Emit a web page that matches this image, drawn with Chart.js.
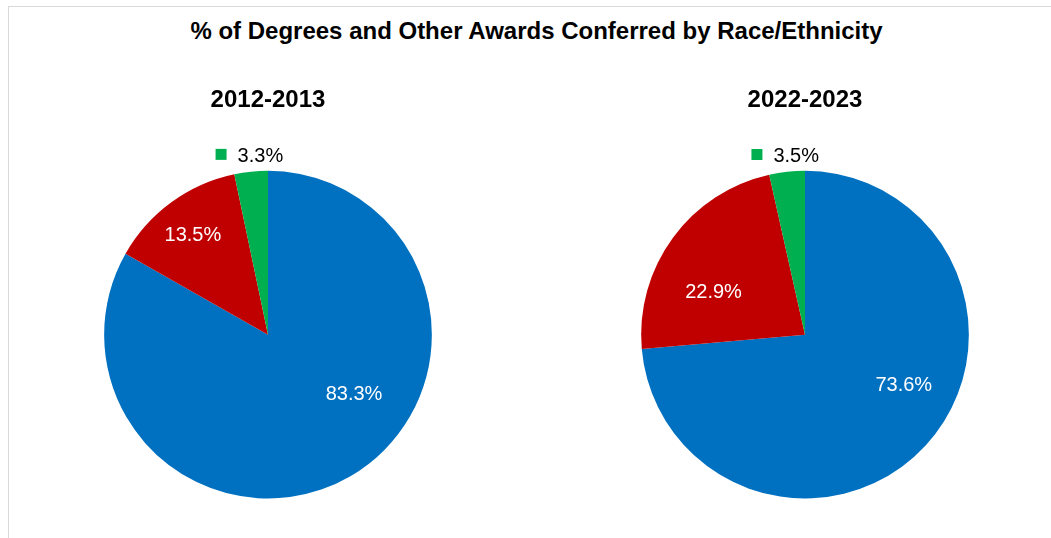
<!DOCTYPE html>
<html>
<head>
<meta charset="utf-8">
<script src="https://cdn.jsdelivr.net/npm/chart.js@4.4.1/dist/chart.umd.min.js"></script>
<style>
  body { margin: 0; background: #fff; overflow: hidden; width: 1051px; height: 538px; position: relative; }
  .frame { position: absolute; left: 8px; top: 6px; width: 1100px; height: 600px;
           border-left: 1px solid #d9d9d9; border-top: 1px solid #d9d9d9; }
  .main-title { position: absolute; left: 0; top: 17px; width: 1073px; text-align: center;
                font: bold 24px "Liberation Sans", Arial, sans-serif; line-height: 28px; color: #000; }
  canvas { position: absolute; top: 0; }
  #pieLeft { left: 0; }
  #pieRight { left: 537px; }
</style>
</head>
<body>
<div class="frame"></div>
<div class="main-title">% of Degrees and Other Awards Conferred by Race/Ethnicity</div>
<canvas id="pieLeft" width="536" height="538"></canvas>
<canvas id="pieRight" width="514" height="538"></canvas>
<script>
const groups = ["Group 1", "Group 2", "Group 3"];
const years = ["2012-2013", "2022-2023"];
const share2012 = [83.3, 13.5, 3.3];
const share2022 = [73.6, 22.9, 3.5];
const sliceColors = ["#0070C0", "#C00000", "#00B050"];

const FONT = "'Liberation Sans', Arial, sans-serif";

// where each value label sits: t = fraction along the slice, f = fraction of the radius
const placeLeft = [{ t: 0.416, f: 0.638 }, { t: 0.48, f: 0.76 }, { outside: true, f: 1.1 }];
const placeRight = [{ t: 0.442, f: 0.677 }, { t: 0.364, f: 0.616 }, { outside: true, f: 1.1 }];

const sliceLabels = {
  id: "sliceLabels",
  afterDatasetsDraw(chart, args, opts) {
    const ctx = chart.ctx;
    const meta = chart.getDatasetMeta(0);
    const values = chart.data.datasets[0].data;
    ctx.save();
    ctx.font = "20px " + FONT;
    ctx.textBaseline = "middle";
    meta.data.forEach((arc, i) => {
      const p = arc.getProps(["x", "y", "startAngle", "endAngle", "outerRadius"], true);
      const place = opts.place[i];
      const t = place.outside ? 0.5 : place.t;
      const a = p.startAngle + (p.endAngle - p.startAngle) * t;
      const cx = p.x + Math.cos(a) * p.outerRadius * place.f;
      const cy = p.y + Math.sin(a) * p.outerRadius * place.f;
      const text = values[i].toFixed(1) + "%";
      if (place.outside) {
        // legend-style key square in front of the text
        const key = 11, gap = 11;
        const tw = ctx.measureText(text).width;
        const x0 = cx - (key + gap + tw) / 2;
        ctx.fillStyle = sliceColors[i];
        ctx.fillRect(x0, cy - key / 2 - 1, key, key);
        ctx.fillStyle = "#000";
        ctx.textAlign = "left";
        ctx.fillText(text, x0 + key + gap, cy + 1);
      } else {
        ctx.fillStyle = "#fff";
        ctx.textAlign = "center";
        ctx.fillText(text, cx, cy);
      }
    });
    ctx.restore();
  }
};

function makePie(id, title, values, place, padRight) {
  return new Chart(document.getElementById(id), {
    type: "pie",
    data: {
      labels: groups,
      datasets: [{
        data: values,
        backgroundColor: sliceColors,
        borderWidth: 0
      }]
    },
    options: {
      responsive: false,
      animation: false,
      layout: { padding: { top: 86, left: 104, right: padRight, bottom: 39.5 } },
      plugins: {
        legend: { display: false },
        tooltip: { enabled: false },
        title: {
          display: true,
          text: title,
          color: "#000",
          font: { family: FONT, size: 24, weight: "bold", lineHeight: 1.2 },
          padding: { top: 0, bottom: 56 }
        },
        sliceLabels: { place: place }
      }
    },
    plugins: [sliceLabels]
  });
}

makePie("pieLeft", years[0], share2012, placeLeft, 104);
makePie("pieRight", years[1], share2022, placeRight, 82);
</script>
</body>
</html>
